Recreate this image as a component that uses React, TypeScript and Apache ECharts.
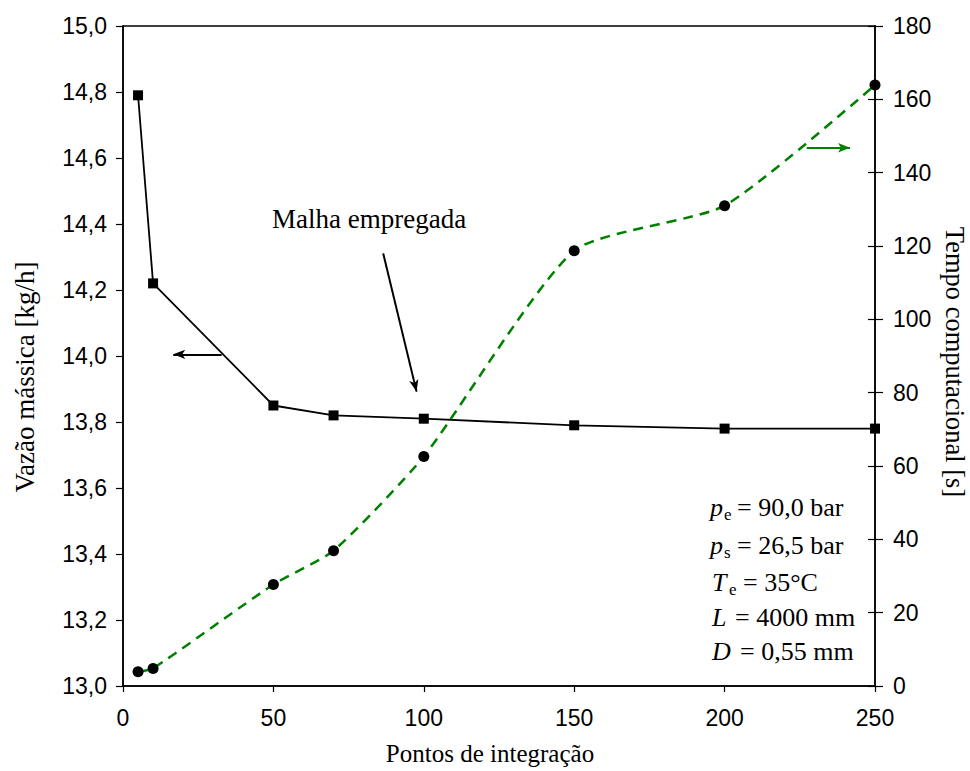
import React, { useEffect, useRef } from "react";
import * as echarts from "echarts";

const xPoints = [5, 10, 50, 70, 100, 150, 200, 250];
const massFlow = [14.79, 14.22, 13.85, 13.82, 13.81, 13.79, 13.78, 13.78];
const compTime = [3.9, 4.8, 27.7, 36.9, 62.6, 118.7, 131.0, 163.9];
const xTicks = { min: 0, max: 250, interval: 50 };
const leftTicks = { min: 13.0, max: 15.0, interval: 0.2 };
const rightTicks = { min: 0, max: 180, interval: 20 };

const SERIF = '"Liberation Serif", "Times New Roman", serif';
const SANS = '"Liberation Sans", Arial, sans-serif';

export default function App() {
  const ref = useRef<HTMLDivElement>(null);
  useEffect(() => {
    if (!ref.current) return;
    const chart = echarts.init(ref.current, null, { renderer: "svg" });
    const axisLine = { show: true, lineStyle: { color: "#000", width: 1.5 } };
    const comma = (v: number) => v.toFixed(1).replace(".", ",");
    const txt = (x: number, y: number, text: string, size: number, italic = false, align = "left") => ({
      type: "text",
      x,
      y,
      silent: true,
      style: {
        text,
        fill: "#000",
        font: `${italic ? "italic " : ""}${size}px ${SERIF}`,
        align,
        verticalAlign: "middle",
      },
    });
    chart.setOption({
      animation: false,
      backgroundColor: "#fff",
      grid: { left: 123, right: 95, top: 26, bottom: 85, show: true, borderColor: "#000", borderWidth: 1.5 },
      xAxis: {
        type: "value",
        min: xTicks.min,
        max: xTicks.max,
        interval: xTicks.interval,
        axisLine,
        axisTick: { show: true, inside: false, length: 6, lineStyle: { color: "#000", width: 1.2 } },
        axisLabel: { color: "#000", fontFamily: SANS, fontSize: 23, margin: 20 },
        splitLine: { show: false },
      },
      yAxis: [
        {
          type: "value",
          position: "left",
          min: leftTicks.min,
          max: leftTicks.max,
          interval: leftTicks.interval,
          axisLine,
          axisTick: { show: true, inside: false, length: 7, lineStyle: { color: "#000", width: 1.2 } },
          axisLabel: { color: "#000", fontFamily: SANS, fontSize: 23, margin: 16, formatter: comma },
          splitLine: { show: false },
        },
        {
          type: "value",
          position: "right",
          min: rightTicks.min,
          max: rightTicks.max,
          interval: rightTicks.interval,
          axisLine,
          axisTick: { show: true, inside: false, length: 8, lineStyle: { color: "#000", width: 1.2 } },
          axisLabel: { color: "#000", fontFamily: SANS, fontSize: 23, margin: 18 },
          splitLine: { show: false },
        },
        {
          type: "value",
          position: "right",
          min: rightTicks.min,
          max: rightTicks.max,
          interval: rightTicks.interval,
          axisLine: { show: false },
          axisTick: { show: true, inside: true, length: 7, lineStyle: { color: "#000", width: 1.2 } },
          axisLabel: { show: false },
          splitLine: { show: false },
        },
      ],
      series: [
        {
          type: "line",
          name: "Vazão mássica",
          yAxisIndex: 0,
          data: xPoints.map((x, i) => [x, massFlow[i]]),
          symbol: "rect",
          symbolSize: 10,
          itemStyle: { color: "#000" },
          lineStyle: { color: "#000", width: 1.8 },
          z: 3,
          markLine: {
            silent: true,
            symbol: ["none", "arrow"],
            symbolSize: [7, 12],
            label: { show: false },
            lineStyle: { color: "#000", width: 2, type: "solid" },
            data: [
              [{ coord: [32.8, 14.005] }, { coord: [16.7, 14.005] }],
              [{ coord: [86.5, 14.311] }, { coord: [97.6, 13.892] }],
            ],
          },
        },
        {
          type: "line",
          name: "Tempo computacional",
          yAxisIndex: 1,
          data: xPoints.map((x, i) => [x, compTime[i]]),
          smooth: 0.2,
          symbol: "circle",
          symbolSize: 11,
          itemStyle: { color: "#000" },
          lineStyle: { color: "#008000", width: 2.5, type: [10, 7] },
          z: 2,
          markLine: {
            silent: true,
            symbol: ["none", "arrow"],
            symbolSize: [7, 12],
            label: { show: false },
            lineStyle: { color: "#008000", width: 2, type: "solid" },
            data: [[{ coord: [227.3, 146.8] }, { coord: [241.7, 146.8] }]],
          },
        },
      ],
      graphic: [
        {
          type: "text",
          x: 25,
          y: 377,
          rotation: Math.PI / 2,
          silent: true,
          style: { text: "Vazão mássica [kg/h]", fill: "#000", font: `27px ${SERIF}`, align: "center", verticalAlign: "middle" },
        },
        {
          type: "text",
          x: 955,
          y: 362,
          rotation: -Math.PI / 2,
          silent: true,
          style: { text: "Tempo computacional [s]", fill: "#000", font: `26.5px ${SERIF}`, align: "center", verticalAlign: "middle" },
        },
        txt(490, 753, "Pontos de integração", 25, false, "center"),
        txt(272, 219, "Malha empregada", 27),
        txt(710, 507, "p", 26, true),
        txt(724, 514, "e", 17),
        txt(737, 507, "= 90,0 bar", 26),
        txt(710, 545, "p", 26, true),
        txt(724, 552, "s", 17),
        txt(737, 545, "= 26,5 bar", 26),
        txt(712, 582, "T", 26, true),
        txt(729, 589, "e", 17),
        txt(743, 582, "= 35°C", 26),
        txt(712, 617, "L", 26, true),
        txt(735, 617, "= 4000 mm", 26),
        txt(712, 651, "D", 26, true),
        txt(740, 651, "= 0,55 mm", 26),
      ],
    });
    return () => chart.dispose();
  }, []);
  return <div ref={ref} style={{ width: 970, height: 771, position: "absolute", left: 0, top: 0 }} />;
}
